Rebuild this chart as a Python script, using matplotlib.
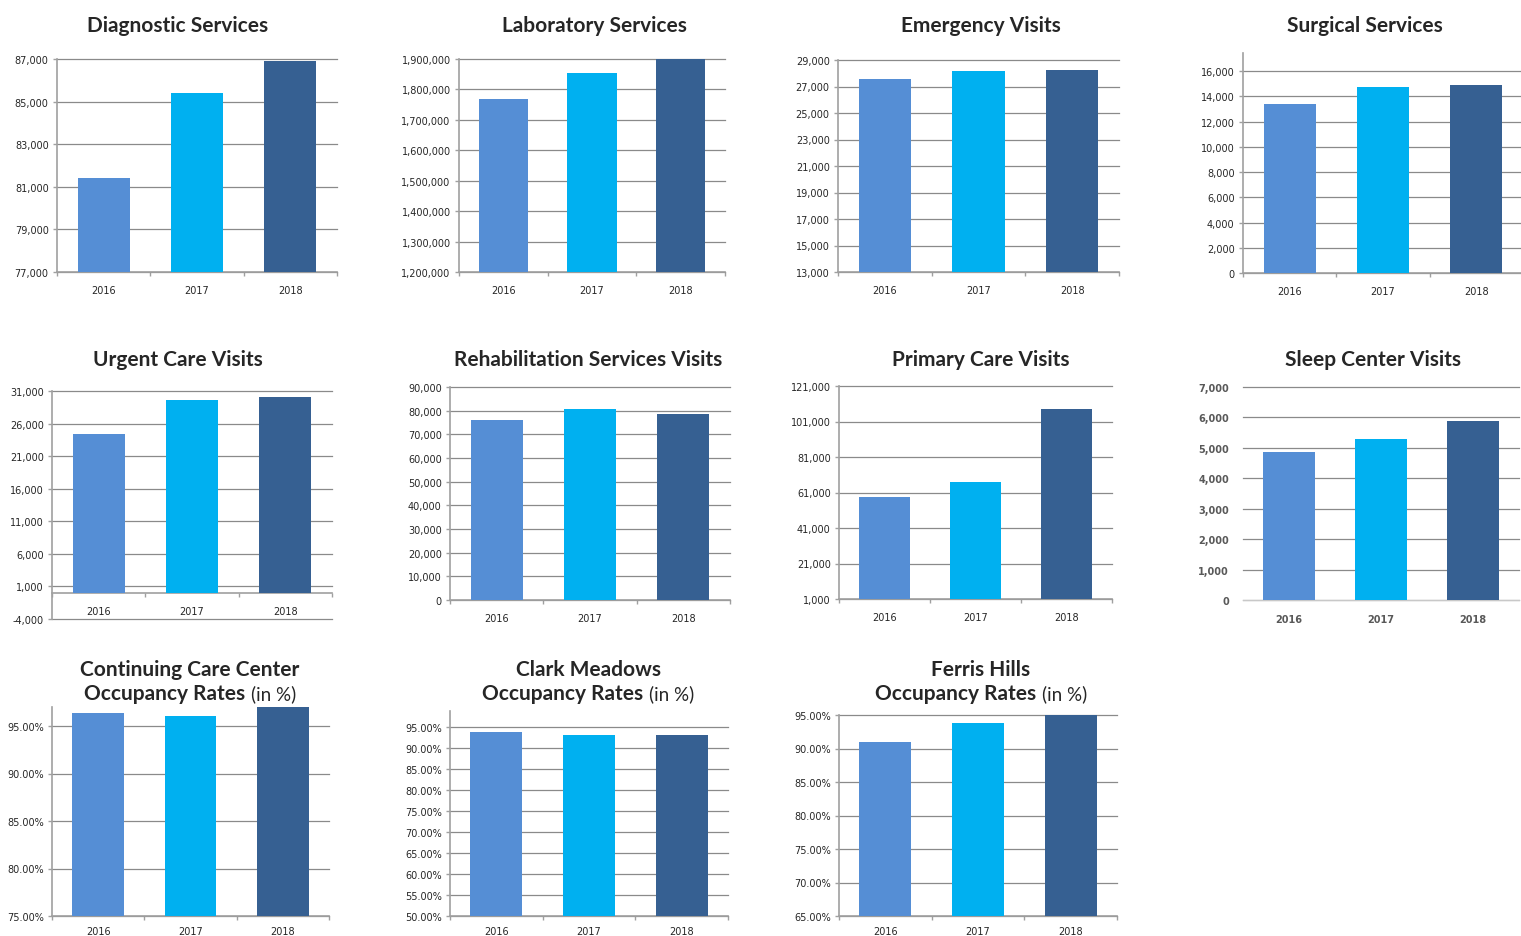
import matplotlib
matplotlib.use('Agg')
import matplotlib.pyplot as plt
from matplotlib.ticker import FuncFormatter
import numpy as np

W, H = 1521, 937

years = ['2016', '2017', '2018']
bar_colors = ['#558ed5', '#00b0f0', '#366092']

diagnostic = [81400, 85400, 86900]
laboratory = [1768000, 1854000, 1905000]
emergency = [27570, 28170, 28250]
surgical = [13390, 14730, 14890]
urgent_care = [24330, 29550, 30010]
rehabilitation = [76050, 80700, 78600]
primary_care = [58500, 66900, 108000]
sleep_center = [4860, 5290, 5880]
continuing_care = [96.37, 96.05, 97.3]
clark_meadows = [93.8, 93.1, 93.1]
ferris_hills = [91.0, 93.8, 95.3]

title_font = ['Lato', 'DejaVu Sans']
tick_font = 'DejaVu Sans'

fig = plt.figure(figsize=(W / 100, H / 100), dpi=100)
fig.patch.set_facecolor('white')


def bar_panel(box, values, ylim, yticks, fmt='{:,.0f}', style='classic', zero_axis=False,
              xpad=9.5):
  l, t, r, b = box
  ax = fig.add_axes([l / W, 1 - b / H, (r - l) / W, (b - t) / H])
  x = np.arange(len(years))
  ax.bar(x, values, width=0.56, color=bar_colors, zorder=3)
  ax.set_xlim(-0.5, len(years) - 0.5)
  ax.set_ylim(*ylim)
  ax.set_yticks(yticks)
  ax.yaxis.set_major_formatter(FuncFormatter(lambda v, p: fmt.format(v)))
  ax.set_xticks(x)
  ax.set_xticklabels(years)
  ax.set_xticks(np.arange(-0.5, len(years)), minor=True)
  ax.grid(axis='y', color='#8a8a8a', lw=0.9, zorder=1)
  for gl in ax.get_ygridlines():
    gl.set_clip_on(False)
  ax.set_axisbelow(True)
  ax.spines['top'].set_visible(False)
  ax.spines['right'].set_visible(False)
  ax.set_facecolor('none')

  if style == 'flat':
    ax.spines['left'].set_visible(False)
    ax.spines['bottom'].set_color('#c8c8c8')
    ax.tick_params(axis='y', length=0, pad=10, labelsize=7, labelcolor='#595959')
    ax.tick_params(axis='x', which='both', length=0, pad=10, labelsize=7,
                   labelcolor='#595959')
    for lab in ax.get_xticklabels() + ax.get_yticklabels():
      lab.set_fontweight('bold')
  else:
    for s in ('left', 'bottom'):
      ax.spines[s].set_color('#a0a0a0')
      ax.spines[s].set_linewidth(1.2)
    ax.tick_params(axis='y', length=3, width=1, color='#a0a0a0', pad=3,
                   labelsize=7, labelcolor='#262626')
    ax.tick_params(axis='x', which='major', length=0, pad=xpad, labelsize=7,
                   labelcolor='#262626')
    ax.tick_params(axis='x', which='minor', length=3, width=1, color='#a0a0a0')
  if zero_axis:
    ax.spines['bottom'].set_position(('data', 0))
  for lab in ax.get_xticklabels() + ax.get_yticklabels():
    lab.set_family(tick_font)
  return ax


def title(xc, y, text, size=15):
  fig.text(xc / W, 1 - y / H, text, ha='center', va='center', fontsize=size,
           fontweight='bold', family=title_font, color='#262626')


def title_split(xc, y, bold_text, light_text, size=15):
  t1 = fig.text(0, 1 - y / H, bold_text, ha='left', va='center', fontsize=size,
                fontweight='bold', family=title_font, color='#262626')
  t2 = fig.text(0, 1 - y / H, light_text, ha='left', va='center', fontsize=size - 1.5,
                family=title_font, color='#262626')
  r = fig.canvas.get_renderer()
  w1 = t1.get_window_extent(r).width
  w2 = t2.get_window_extent(r).width
  gap = 6
  start = xc - (w1 + gap + w2) / 2
  t1.set_x(start / W)
  t2.set_x((start + w1 + gap) / W)


pct = '{:.2f}%'

# row 1
bar_panel((57, 60, 337, 273), diagnostic, (77000, 87000), np.arange(77000, 87001, 2000))
bar_panel((459, 60, 725, 273), laboratory, (1200000, 1900000),
          np.arange(1200000, 1900001, 100000))
bar_panel((838, 61, 1119, 273), emergency, (13000, 29000), np.arange(13000, 29001, 2000))
bar_panel((1243, 54, 1523, 274), surgical, (0, 17430), np.arange(0, 16001, 2000))
title(178, 26, 'Diagnostic Services')
title(594, 26, 'Laboratory Services')
title(981, 26, 'Emergency Visits')
title(1365, 26, 'Surgical Services')

# row 2
bar_panel((52, 392, 332, 620), urgent_care, (-4000, 31000), np.arange(-4000, 31001, 5000),
          zero_axis=True)
bar_panel((450, 388, 730, 601), rehabilitation, (0, 90000), np.arange(0, 90001, 10000))
bar_panel((839, 387, 1112, 600), primary_care, (1000, 121000), np.arange(1000, 121001, 20000))
bar_panel((1243, 388, 1519, 601), sleep_center, (0, 7000), np.arange(0, 7001, 1000),
          style='flat')
title(178, 360, 'Urgent Care Visits')
title(588, 360, 'Rehabilitation Services Visits')
title(981, 360, 'Primary Care Visits')
title(1373, 360, 'Sleep Center Visits')

# row 3
bar_panel((52, 708, 329, 917), continuing_care, (75, 97), np.arange(75, 95.1, 5), fmt=pct,
          xpad=7.5)
bar_panel((450, 712, 728, 917), clark_meadows, (50, 98.8), np.arange(50, 95.1, 5), fmt=pct,
          xpad=7.5)
bar_panel((839, 716, 1117, 917), ferris_hills, (65, 95), np.arange(65, 95.1, 5), fmt=pct,
          xpad=7.5)
title(190, 670, 'Continuing Care Center')
title_split(190, 694, 'Occupancy Rates', '(in %)')
title(588, 670, 'Clark Meadows')
title_split(588, 694, 'Occupancy Rates', '(in %)')
title(981, 670, 'Ferris Hills')
title_split(981, 694, 'Occupancy Rates', '(in %)')

fig.savefig('out.png', dpi=100)
